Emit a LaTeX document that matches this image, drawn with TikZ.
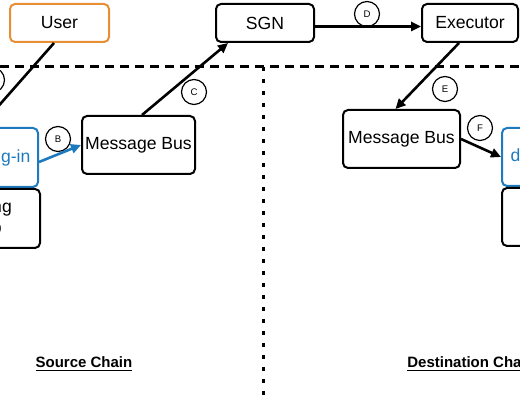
\documentclass[tikz,border=0pt]{standalone}
\usepackage{fontspec}
\setmainfont{Liberation Sans}
\usetikzlibrary{arrows.meta}
\definecolor{userorange}{RGB}{232,142,52}
\definecolor{plugblue}{RGB}{30,122,190}
\begin{document}
\begin{tikzpicture}[x=0.5pt,y=-0.5pt]
			\tikzstyle{every node}+=[inner sep=0pt]
			\tikzstyle{box}=[draw, rounded corners=2.5pt, line width=1pt, align=center, font=\fontsize{8.8}{10.6}\selectfont]
			\tikzstyle{tag}=[draw, circle, line width=0.6pt, minimum size=12.5pt, font=\fontsize{4.8}{5}\selectfont]
			\tikzstyle{flow}=[-{Triangle[length=5pt,width=4.6pt]}, line width=1.3pt]
			\tikzstyle{chain}=[font=\fontsize{7.5}{9}\bfseries]
			\useasboundingbox (0,0) rectangle (520,400);
			\draw [black, line width=1.5pt, dash pattern=on 4.5pt off 3pt] (0,67) -- (520,67);
			\draw [black, line width=1.5pt, dash pattern=on 2pt off 4pt] (263,67) -- (263,400);
			\node [box, draw=userorange, minimum width=49.5pt, minimum height=19pt] (user) at (59.5,23) {User};
			\node [box, minimum width=49pt, minimum height=19pt] (sgn) at (265,23) {SGN};
			\node [box, minimum width=48pt, minimum height=19pt] (executor) at (470,23) {Executor};
			\node [box, minimum width=56.5pt, minimum height=29pt] (busL) at (138.5,145) {Message Bus};
			\node [box, minimum width=58.5pt, minimum height=29pt] (busR) at (401.5,139) {Message Bus};
			\node [box, draw=plugblue, text=plugblue, minimum width=58pt, minimum height=29.5pt] (plugL) at (-20,157.5) {dApp Plug-in};
			\node [box, minimum width=59pt, minimum height=29.5pt] (appL) at (-19,218.5) {Existing\\dApp};
			\node [box, draw=plugblue, text=plugblue, minimum width=59pt, minimum height=29pt] (plugR) at (561,157) {dApp Plug-in};
			\node [box, minimum width=59pt, minimum height=29pt] (appR) at (561,217) {Existing\\dApp};
			\node [tag] (tagA) at (-8,80) {A};
			\node [tag] (tagB) at (58,139) {B};
			\node [tag] (tagC) at (194,92) {C};
			\node [tag] (tagD) at (367,14) {D};
			\node [tag] (tagE) at (445,89) {E};
			\node [tag] (tagF) at (480,128) {F};
			\draw [flow] ([xshift=-2.75pt]user.south) -- (plugL.north);
			\draw [flow, plugblue] ([yshift=-2.25pt]plugL.east) -- (busL.west);
			\draw [flow] ([xshift=1.75pt]busL.north) -- ([xshift=-18.5pt]sgn.south);
			\draw [flow] ([yshift=-1.75pt]sgn.east) -- ([yshift=-1.75pt]executor.west);
			\draw [flow] ([xshift=-5.5pt]executor.south) -- ([xshift=-3pt]busR.north);
			\draw [flow] (busR.east) -- (plugR.west);
			\node [chain] (srcLabel) at (84,364) {\underline{Source Chain}};
			\node [chain, anchor=west] (dstLabel) at (407,364) {\underline{Destination Chain}};
\end{tikzpicture}
\end{document}
